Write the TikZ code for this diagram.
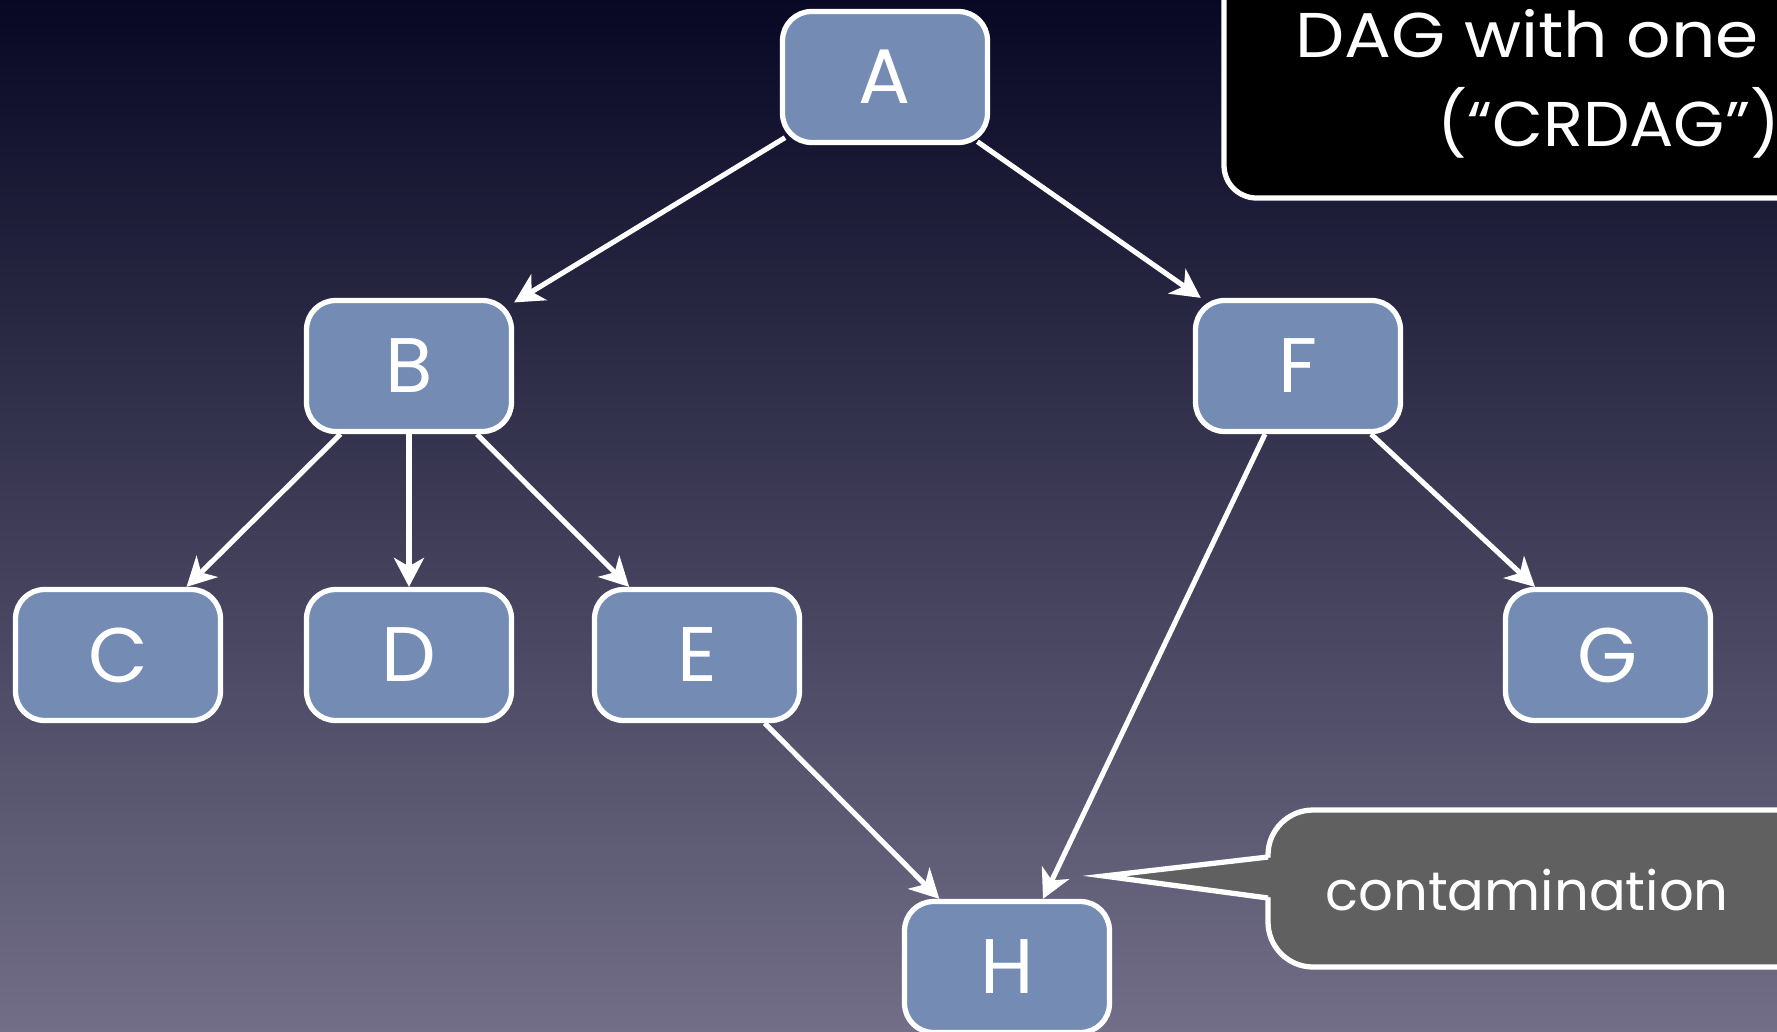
\documentclass[tikz,border=0pt]{standalone}
\usepackage{fontspec}
\setmainfont{Poppins}
\usetikzlibrary{arrows.meta}
\definecolor{bgtop}{RGB}{8,8,36}
\definecolor{bgbot}{RGB}{114,110,136}
\definecolor{boxfill}{RGB}{116,139,180}
\definecolor{calloutfill}{RGB}{96,96,96}
\begin{document}
\begin{tikzpicture}[x=0.02cm,y=-0.02cm,
  dagnode/.style={draw=white, line width=3pt, fill=boxfill, rounded corners=0.58cm,
    minimum width=4.1cm, minimum height=2.62cm, text=white, inner sep=0pt,
    font=\fontsize{44}{44}\selectfont},
  link/.style={draw=white, line width=2.9pt,
    -{Stealth[length=0.58cm,width=0.6cm,inset=0.17cm]}},
  fromtop/.style={shorten <=-0.12cm},
  bubble/.style={draw=white, line width=3pt, fill=calloutfill, rounded corners=0.9cm},
  titlebox/.style={draw=white, line width=3pt, fill=black, rounded corners=0.65cm},
  titletext/.style={text=white, inner sep=0pt, font=\fontsize{36}{36}\selectfont},
  notetext/.style={text=white, inner sep=0pt, font=\fontsize{31}{31}\selectfont}]
\useasboundingbox (0,0) rectangle (1777,1031);
\clip (0,0) rectangle (1777,1031);
% backdrop
\shade[top color=bgtop, bottom color=bgbot] (0,0) rectangle (1777,1031);

% title panel
\draw[titlebox] (1224,-60) rectangle (1840,198);
\node[titletext, anchor=base west] (t1) at (1295,57) {\scalebox{1.1}[1]{DAG with one}};
\node[titletext, anchor=base west] (t2) at (1437,146) {\scalebox{1.04}[1]{(“CRDAG”)}};

% nodes
\node[dagnode] (A) at (885,77) {A};
\node[dagnode] (B) at (409,366) {B};
\node[dagnode] (F) at (1298,366) {F};
\node[dagnode] (C) at (118,655) {C};
\node[dagnode] (D) at (409,655) {D};
\node[dagnode] (E) at (697,655) {E};
\node[dagnode] (G) at (1608,655) {G};
\node[dagnode] (H) at (1007,967) {H};

% edges
\draw[link, fromtop] (A) -- (B);
\draw[link, fromtop] (A) -- (F);
\draw[link] (B) -- (C);
\draw[link] (B) -- (D);
\draw[link] (B) -- (E);
\draw[link] (F) -- (G);
\draw[link] (E) -- (H);
\draw[link] ([xshift=-0.66cm]F.south) -- ([xshift=0.72cm]H.north);

% speech bubble: rounded body, then the pointer laid over its left edge
\draw[bubble] (1268,810) rectangle (1860,967);
\fill[calloutfill] (1276,857) -- (1104,876) -- (1276,898) -- cycle;
\draw[white, line width=3pt] (1268,857) -- (1104,876) -- (1268,898);
\node[notetext, anchor=base] (cont) at (1527,910) {contamination};
\end{tikzpicture}
\end{document}
